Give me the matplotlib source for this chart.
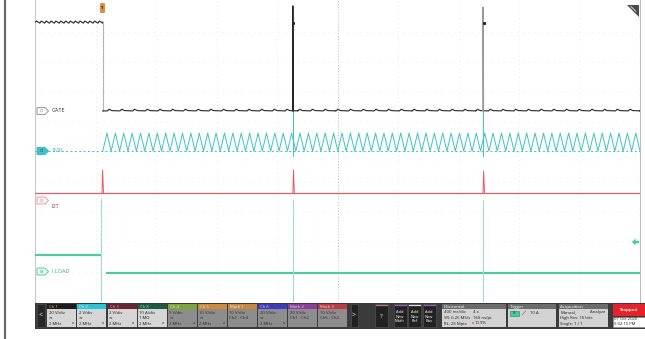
import numpy as np
import matplotlib
matplotlib.use("Agg")
import matplotlib.pyplot as plt
from matplotlib.patches import Rectangle, Polygon

plt.rcParams['font.family'] = ['Open Sans', 'DejaVu Sans']

W, H = 645, 339

# ---------------- horizontal settings ----------
time_per_div = 0.4          # s/div
record_length = 4.0         # s
trigger_position = 0.109    # 10.9 %
t_start = -trigger_position * record_length
t_end = t_start + record_length

# ---------------- trace levels (vertical divisions, 0 = bottom, 10 = top) --
gate_edge_time = 0.012
gate_high = 9.33
gate_low = 6.37
gate_ripple_pre = 0.035
gate_ripple_pre_period = 0.032
gate_bump = 0.055
gate_bump_period = 0.084

tmr_low = 5.03
tmr_high = 5.63
tmr_period = 0.0555
tmr_dip = 4.88

i2t_level = 3.62
iload_pre = 1.57
iload_post = 0.98

event_times = [1.269, 2.526]          # repetitive fault events
gate_spike_top = [9.87, 9.83]
i2t_spike_top = [4.40, 4.40, 4.37]    # trigger, event 1, event 2
iload_spike_top = [3.43, 3.40, 3.40]
iload_spike_bottom = [-0.2, -0.2, -0.2]

# ---------------- status bar content ---------------------------------------
ch_names = ["Ch 1", "Ch 2", "Ch 3", "Ch 8", "Ch 4", "Ch 5", "Math 1", "Ch 6", "Math 2", "Math 3"]
ch_scale = ["20 V/div", "2 V/div", "2 V/div", "10 A/div", "5 V/div", "10 V/div",
            "10 V/div", "20 V/div", "20 V/div", "10 V/div"]
ch_line2 = ["≂", "≂", "≂", "1 MΩ", "≂", "≂", "Ch2 - Ch4", "≂", "Ch1 - Ch2", "Ch5 - Ch2"]
ch_line3 = ["2 MHz", "2 MHz", "2 MHz", "2 MHz", "2 MHz", "2 MHz", "", "2 MHz", "", ""]
ch_head_col = ["#1d1d1d", "#27c5d5", "#6b2331", "#1f5b41", "#78a936", "#d18a37",
               "#c9883b", "#3c3cc2", "#8b3e9b", "#c23a41"]
ch_head_txt = ["#e7d23c", "#e9fbfd", "#f3a6b5", "#86e3b8", "#eef7c8", "#fbe6c8",
               "#fbe6c8", "#d8d8ff", "#f0d0f5", "#fbd0d0"]
ch_active = [True, True, True, True, False, False, False, False, False, False]

horiz_lines = [("400 ms/div", "4 s"), ("SR: 6.25 MS/s", "160 ns/pt"), ("RL: 25 Mpts", "10.9%")]
acq_lines = [("Manual,", "Analyze"), ("High Res: 16 bits", ""), ("Single: 1 / 1", "")]
trigger_level = "10 A"
date_text = ["07 Oct 2020", "5:02:15 PM"]

# ---------------- colours ---------------------------------------------------
c_gate = "#262626"
c_tmr = "#3cc3cb"
c_i2t = "#e75a6d"
c_iload = "#38d29c"

fig = plt.figure(figsize=(W / 100, H / 100), dpi=100)
fig.patch.set_facecolor("white")

# main scope axes (pixel box: x 35..640, y 0..302)
ax = fig.add_axes([35 / W, (H - 302) / H, 605 / W, 302 / H])
ax.set_xlim(t_start, t_end)
ax.set_ylim(0, 302 / 30)
ax.set_xticks([]); ax.set_yticks([])
for s in ["top", "bottom"]:
    ax.spines[s].set_visible(False)
ax.spines["left"].set_color("#c9c9c9"); ax.spines["left"].set_linewidth(0.8)
ax.spines["right"].set_color("#bdbdbd"); ax.spines["right"].set_linewidth(0.8)

# graticule
for k in range(1, 10):
    tx = t_start + k * time_per_div
    if k == 5:
        ax.axvline(tx, color="#bdbdbd", lw=0.6, ls=(0, (1.5, 2)), zorder=1)
    else:
        ax.axvline(tx, color="#d6d6d6", lw=0.5, ls=(0, (1, 5)), zorder=1)
for k in range(1, 10):
    ax.axhline(k, color="#dedede", lw=0.5, ls=(0, (1, 8)), zorder=1)

# ---- I LOAD
ax.plot([t_start, gate_edge_time - 0.01], [iload_pre, iload_pre], color=c_iload, lw=1.4, zorder=3)
ax.plot([gate_edge_time + 0.025, t_end], [iload_post, iload_post], color=c_iload, lw=1.4, zorder=3)
for t, top, bot in zip([gate_edge_time - 0.01] + event_times, iload_spike_top, iload_spike_bottom):
    ax.plot([t, t], [bot, top], color="#9ddfc6", lw=0.8, zorder=3)

# ---- I2T
ax.plot([t_start, t_end], [i2t_level, i2t_level], color=c_i2t, lw=0.9, zorder=4)
for t, top in zip([gate_edge_time - 0.005] + event_times, i2t_spike_top):
    ax.plot([t, t + 0.004, t + 0.01], [i2t_level, top, i2t_level], color=c_i2t, lw=0.7, zorder=4)

# ---- TMR
ax.plot([t_start, t_end], [tmr_low, tmr_low], color=c_tmr, lw=0.7, ls=(0, (2, 2.5)), zorder=5)
n_half = int((t_end - gate_edge_time) / (tmr_period / 2))
tt = gate_edge_time + np.arange(n_half + 1) * tmr_period / 2
vv = np.where(np.arange(n_half + 1) % 2 == 0, tmr_low, tmr_high)
ax.plot(tt, vv, color=c_tmr, lw=0.7, zorder=5)
for t in event_times:
    ax.plot([t, t], [tmr_dip, gate_low], color=c_tmr, lw=0.7, zorder=5)

# ---- GATE
n_pre = int((gate_edge_time - t_start) / gate_ripple_pre_period)
tp = [t_start]
vp = [gate_high]
for k in range(n_pre):
    t0 = t_start + k * gate_ripple_pre_period
    tp += [t0 + 0.3 * gate_ripple_pre_period, t0 + gate_ripple_pre_period]
    vp += [gate_high + gate_ripple_pre, gate_high - gate_ripple_pre]
tp.append(gate_edge_time); vp.append(gate_high)
ax.plot(tp, vp, color=c_gate, lw=0.8, zorder=6)
ax.plot([gate_edge_time, gate_edge_time], [gate_low, gate_high], color="#b3b3b3", lw=0.8, zorder=6)
n_post = int((t_end - gate_edge_time) / gate_bump_period)
tq = [gate_edge_time]
vq = [gate_low]
for k in range(n_post):
    t0 = gate_edge_time + 0.03 + k * gate_bump_period
    tq += [t0, t0 + 0.012, t0 + 0.03, t0 + gate_bump_period]
    vq += [gate_low, gate_low + gate_bump, gate_low + 0.01, gate_low]
tq.append(t_end); vq.append(gate_low)
ax.plot(tq, vq, color=c_gate, lw=0.8, zorder=6)
for t, top, col in zip(event_times, gate_spike_top, [c_gate, "#9a9a9a"]):
    ax.plot([t - 0.002, t, t + 0.004], [gate_low, top, gate_low], color=col, lw=0.8, zorder=6)
    ax.plot([t + 0.004], [9.3], marker="s", ms=1.2, color=c_gate, zorder=7)

# ---------------- overlay in pixel coordinates -----------------------------
ov = fig.add_axes([0, 0, 1, 1], zorder=10)
ov.set_xlim(0, W); ov.set_ylim(H, 0)
ov.axis("off")
ov.patch.set_alpha(0)

# outer left border
ov.plot([5, 5], [0, H], color="#6a6a6a", lw=1.6)

def tag(y, text, edge, face, tcol):
    pts = [(37, y - 3.5), (45, y - 3.5), (48.5, y), (45, y + 3.5), (37, y + 3.5)]
    ov.add_patch(Polygon(pts, closed=True, fc=face, ec=edge, lw=0.6))
    ov.text(41.5, y + 0.2, text, fontsize=2.6, color=tcol, ha="center", va="center")

tag(111, "C1", "#8a8a8a", "white", "#6a6a6a")
ov.text(52, 111, "GATE", fontsize=4, color="#3a3a3a", va="center")
tag(151, "C2", "#2fb7c0", c_tmr, "#0d4a4e")
ov.text(52, 151, "TMR", fontsize=4, color=c_tmr, va="center")
tag(200.5, "C3", "#ef8d9b", "#fff4f6", "#e07080")
ov.text(52, 206, "I2T", fontsize=4, color="#a8303e", va="center")
tag(271.5, "C8", "#3fcf9e", "#e3f8ef", "#2e9c74")
ov.text(52, 271.5, "I LOAD", fontsize=4, color="#2eb585", va="center")

# trigger position marker
ov.add_patch(Rectangle((99.6, 3), 4.6, 9, fc="#e8892a", ec="#c86e18", lw=0.4))
ov.text(101.9, 7.6, "T", fontsize=3.2, color="#1a1a1a", ha="center", va="center", weight="bold")

# trigger level arrow (right)
ov.add_patch(Polygon([(632, 242), (635.5, 238.5), (635.5, 240.8), (639, 240.8),
                      (639, 243.2), (635.5, 243.2), (635.5, 245.5)], closed=True,
                     fc=c_iload, ec="none"))
# corner icon
ov.add_patch(Polygon([(627, 5), (638.5, 5), (638.5, 16.5)], closed=True, fc="#4a4a4a", ec="none"))
ov.plot([631, 636], [6.5, 11.5], color="white", lw=0.5)

# ---------------- status bar ------------------------------------------------
ov.add_patch(Rectangle((35, 302.5), W - 35, 26, fc="#3b3b3b", ec="none"))
ov.add_patch(Rectangle((37, 304), 8, 23, fc="#262626", ec="#555555", lw=0.4))
ov.text(41, 315.5, "<", fontsize=5, color="white", ha="center", va="center")

for i, name in enumerate(ch_names):
    x0 = 47.3 + 30.1 * i
    w = 29
    ov.add_patch(Rectangle((x0, 304), w, 5, fc=ch_head_col[i], ec="none"))
    ov.text(x0 + 2, 306.6, name, fontsize=3.1, color=ch_head_txt[i], va="center")
    body = "#d6d6d6" if ch_active[i] else "#8d8d8d"
    ov.add_patch(Rectangle((x0, 309), w, 18, fc=body, ec="none"))
    tc = "#1a1a1a" if ch_active[i] else "#2a2a2a"
    ov.text(x0 + 1.5, 312.5, ch_scale[i], fontsize=3.1, color=tc, va="center")
    ov.text(x0 + 1.5, 318, ch_line2[i], fontsize=3.1, color=tc, va="center")
    if ch_line3[i]:
        ov.text(x0 + 1.5, 323.8, ch_line3[i], fontsize=3.1, color=tc, va="center")
        ov.text(x0 + w - 2, 323, "ʌ", fontsize=2.8, color=tc, va="center", ha="right")

# navigation / help / add buttons
ov.add_patch(Rectangle((350.5, 304), 7, 23, fc="#222222", ec="#5a5a5a", lw=0.4))
ov.text(354, 315.5, ">", fontsize=5, color="white", ha="center", va="center")
ov.add_patch(Rectangle((375, 304), 13, 23, fc="#222222", ec="#5a5a5a", lw=0.4))
ov.plot([376, 387], [305.2, 305.2], color="#c87090", lw=0.9)
ov.text(381.5, 316.5, "?", fontsize=4.5, color="white", ha="center", va="center")
for x0, lab, col in [(393.5, "Add\nNew\nMath", "#9b5cc7"), (408, "Add\nNew\nRef", "#dddddd"),
                     (422.5, "Add\nNew\nBus", "#8d5fc4")]:
    ov.add_patch(Rectangle((x0, 304), 13, 23, fc="#222222", ec="#5a5a5a", lw=0.4))
    ov.plot([x0 + 1, x0 + 12], [305.2, 305.2], color=col, lw=0.9)
    ov.text(x0 + 6.5, 316.5, lab, fontsize=2.9, color="white", ha="center", va="center",
            linespacing=1.05)

def panel(x0, w, title):
    ov.add_patch(Rectangle((x0, 304), w, 5, fc="#6c6c6c", ec="none"))
    ov.text(x0 + 2, 306.6, title, fontsize=3.2, color="white", va="center")
    ov.add_patch(Rectangle((x0, 309), w, 18, fc="#d3d3d3", ec="none"))

panel(441.5, 64, "Horizontal")
for j, (a, b) in enumerate(horiz_lines):
    yy = 312.3 + 5.6 * j
    ov.text(443.5, yy, a, fontsize=3.1, color="#1a1a1a", va="center")
    ov.text(473, yy, b if j < 2 else "", fontsize=3.1, color="#1a1a1a", va="center")
ov.add_patch(Rectangle((471.5, 322), 2.4, 2.4, fc="#e8892a", ec="none"))
ov.text(475, 323.5, horiz_lines[2][1], fontsize=3.1, color="#1a1a1a", va="center")

panel(507.5, 48, "Trigger")
ov.add_patch(Rectangle((509.5, 310.5), 9.5, 5, fc="#3ad19c", ec="#1f8a60", lw=0.4))
ov.text(514.2, 313.1, "8", fontsize=3, color="#0d3d2a", ha="center", va="center")
ov.plot([522, 525.5], [315, 311], color="#777777", lw=0.5)
ov.text(530, 313, trigger_level, fontsize=3.1, color="#1a1a1a", va="center")

panel(558.5, 49, "Acquisition")
for j, (a, b) in enumerate(acq_lines):
    yy = 312.3 + 5.6 * j
    ov.text(560.5, yy, a, fontsize=3.1, color="#1a1a1a", va="center")
    if b:
        ov.text(605.5, yy, b, fontsize=3.1, color="#1a1a1a", va="center", ha="right")

ov.add_patch(Rectangle((612.5, 304), 33, 11.5, fc="#ee2027", ec="none"))
ov.text(628.5, 309.8, "Stopped", fontsize=3.2, color="white", ha="center", va="center", weight="bold")
ov.add_patch(Rectangle((612.5, 316.5), 33, 10.5, fc="white", ec="#888888", lw=0.4))
ov.text(614, 319.2, date_text[0], fontsize=3.0, color="#1a1a1a", va="center")
ov.text(614, 324.3, date_text[1], fontsize=3.0, color="#1a1a1a", va="center")

fig.savefig("out.png", dpi=100, facecolor="white")
